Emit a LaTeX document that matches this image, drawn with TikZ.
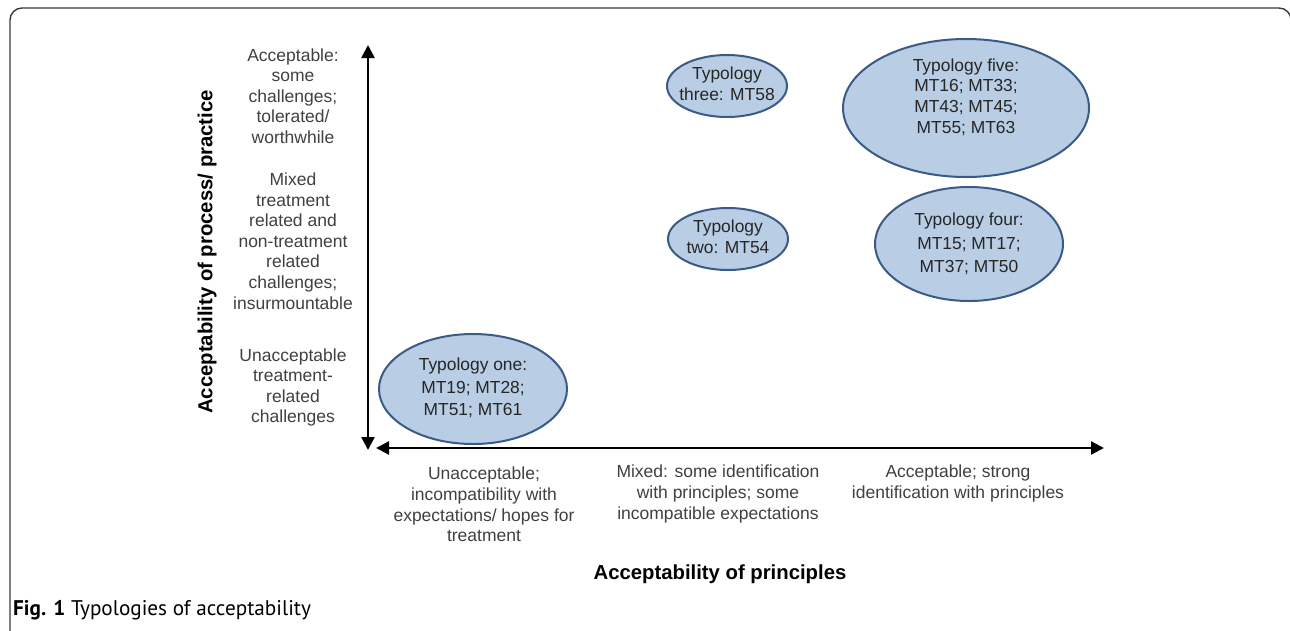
\documentclass[tikz,border=0pt]{standalone}
\usepackage{fontspec}
\setmainfont{Liberation Sans}
\newfontfamily\capfont{PT Sans}
\usetikzlibrary{arrows.meta,shapes.geometric}
\definecolor{ellfill}{HTML}{B9CDE5}
\definecolor{elldraw}{HTML}{3A5A88}
\definecolor{ticktext}{HTML}{404040}
\definecolor{elltext}{HTML}{262626}
\definecolor{framecol}{HTML}{3A3A3A}
\tikzset{
  typell/.style={ellipse, draw=elldraw, fill=ellfill, line width=2pt, inner sep=0pt},
  ticklab/.style={align=center, text=ticktext, inner sep=0pt, font=\fontsize{17.5}{20.6}\selectfont},
  elllab/.style={align=center, text=elltext, inner sep=0pt},
  axislab/.style={inner sep=0pt, font=\bfseries\fontsize{20.3}{24}\selectfont, text=black},
  axisline/.style={line width=2.4pt, black, {Triangle[width=13pt,length=13pt]}-{Triangle[width=13pt,length=13pt]}}
}
\begin{document}
\begin{tikzpicture}[x=1pt,y=-1pt]
\useasboundingbox (0,0) rectangle (1290,630);
\begin{scope}
\clip (0,0) rectangle (1290,630);
\draw[framecol, line width=1.4pt, rounded corners=12pt] (10,8) rectangle (1291,660);
\end{scope}
% ellipses
\node[typell, minimum width=188pt, minimum height=110pt] (e1) at (473,389) {};
\node[typell, minimum width=120pt, minimum height=62pt] (e2) at (728,239) {};
\node[typell, minimum width=120pt, minimum height=62pt] (e3) at (727,86) {};
\node[typell, minimum width=188pt, minimum height=114pt] (e4) at (969,244) {};
\node[typell, minimum width=246pt, minimum height=138pt] (e5) at (966,108) {};
% ellipse texts
\node[elllab, font=\fontsize{17.4}{22.5}\selectfont] (t1) at (473,388) {Typology one:\\MT19; MT28;\\MT51; MT61};
\node[elllab, font=\fontsize{17.4}{21}\selectfont] (t2) at (728,237) {Typology\\two: MT54};
\node[elllab, font=\fontsize{17.4}{21}\selectfont] (t3) at (727,84) {Typology\\three: MT58};
\node[elllab, font=\fontsize{17.4}{23.5}\selectfont] (t4) at (969,244) {Typology four:\\MT15; MT17;\\MT37; MT50};
\node[elllab, font=\fontsize{17.4}{20.7}\selectfont] (t5) at (966,97) {Typology five:\\MT16; MT33;\\MT43; MT45;\\MT55; MT63};
% axes
\coordinate (ytop) at (368,45);
\coordinate (ybot) at (368,450);
\coordinate (xleft) at (376,448);
\coordinate (xright) at (1104,448);
\draw[axisline] (ybot) -- (ytop);
\draw[axisline] (xleft) -- (xright);
% y tick labels
\node[ticklab] (ya) at (293,96) {Acceptable:\\some\\challenges;\\tolerated/\\worthwhile};
\node[ticklab] (yb) at (293,241) {Mixed\\treatment\\related and\\non-treatment\\related\\challenges;\\insurmountable};
\node[ticklab] (yc) at (293,387.5) {Unacceptable\\treatment-\\related\\challenges};
% x tick labels
\node[ticklab] (xa) at (484,504.5) {Unacceptable;\\incompatibility with\\expectations/ hopes for\\treatment};
\node[ticklab] (xb) at (718,494) {Mixed: some identification\\with principles; some\\incompatible expectations};
\node[ticklab] (xc) at (958,483.5) {Acceptable; strong\\identification with principles};
% axis titles
\node[axislab, rotate=90] (ylab) at (207,252) {Acceptability of process/ practice};
\node[axislab] (xlab) at (720,574) {Acceptability of principles};
% caption
\node[anchor=west, inner sep=0pt, font=\capfont\fontsize{21.2}{24}\selectfont, text=black] (cap) at (13,610) {\textbf{Fig. 1} Typologies of acceptability};
\end{tikzpicture}
\end{document}
